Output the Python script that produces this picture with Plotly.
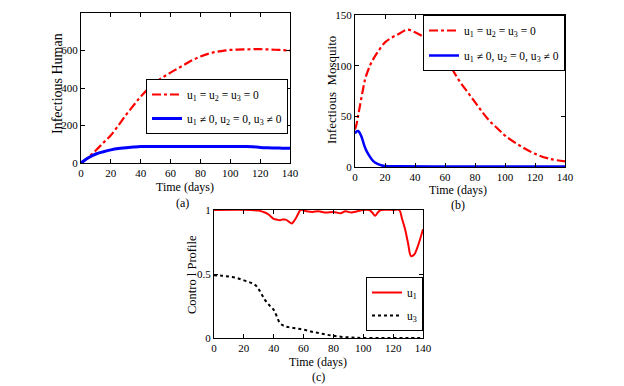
import plotly.graph_objects as go

# Panel (a): infectious human
t_a = [0, 5, 10, 15, 20, 25, 30, 35, 40, 45, 50, 55, 60, 65, 70, 75, 80, 85, 90, 95, 100, 105, 110, 115, 120, 125, 130, 135, 140]
ih_noctrl = [0, 30, 68, 108, 148, 200, 255, 305, 354, 395, 430, 458, 482, 505, 528, 550, 568, 582, 592, 598, 603, 605, 606, 607, 607, 606, 604, 602, 600]
ih_ctrl = [0, 28, 48, 60, 70, 77, 81, 85, 88, 88, 88, 88, 88, 88, 88, 88, 88, 88, 88, 88, 88, 88, 88, 87, 83, 81, 80, 79, 78]

# Panel (b): infectious mosquito
t_b = [0, 1, 2, 3, 5, 7, 10, 12, 15, 20, 25, 30, 35, 40, 45, 50, 55, 60, 65, 70, 75, 80, 85, 90, 95, 100, 110, 120, 130, 140]
im_noctrl = [37, 42, 50, 58, 74, 88, 100, 106, 113, 123, 128, 132, 135.5, 133, 129, 124, 116, 108, 96, 84, 74, 64, 54, 45, 38, 31, 21, 13, 8, 5.5]
t_b2 = [0, 1, 2, 3, 4, 5, 6, 7, 8, 10, 12, 15, 18, 20, 30, 60, 100, 140]
im_ctrl = [33, 35, 35.5, 34, 31, 27, 22, 18, 15, 10, 6, 3, 1.5, 1, 0.7, 0.5, 0.5, 0.5]

# Panel (c): control profiles
t_u1 = [0, 25, 30, 33, 36, 38, 40, 42, 44, 46, 48, 50, 52, 54, 56, 58, 62, 66, 70, 75, 80, 85, 88, 92, 96, 100, 104, 106, 108, 110, 112, 120, 124, 126, 128, 130, 132, 134, 136, 138, 140]
u1 = [1, 1, 0.995, 0.985, 0.97, 0.95, 0.93, 0.925, 0.92, 0.925, 0.925, 0.91, 0.895, 0.92, 0.96, 1.0, 0.99, 0.985, 0.99, 0.98, 0.985, 0.975, 0.99, 0.98, 0.99, 1.0, 1.0, 0.98, 0.955, 0.985, 1.0, 1.0, 1.0, 0.93, 0.85, 0.74, 0.64, 0.65, 0.7, 0.77, 0.85]
t_u3 = [0, 5, 10, 15, 20, 25, 28, 30, 32, 34, 36, 38, 40, 42, 44, 46, 48, 50, 55, 60, 65, 70, 75, 80, 85, 90, 95, 100, 110, 120, 130, 140]
u3 = [0.49, 0.487, 0.48, 0.47, 0.45, 0.43, 0.41, 0.38, 0.34, 0.30, 0.27, 0.245, 0.22, 0.17, 0.12, 0.10, 0.09, 0.085, 0.075, 0.065, 0.05, 0.04, 0.027, 0.017, 0.01, 0.005, 0.002, 0, 0, 0, 0, 0]

x_ticks = [0, 20, 40, 60, 80, 100, 120, 140]
lab_none = "u<sub>1</sub> = u<sub>2</sub> = u<sub>3</sub> = 0"
lab_ctrl = "u<sub>1</sub> \u2260 0, u<sub>2</sub> = 0, u<sub>3</sub> \u2260 0"

# the page body has an 8px margin, so the figure starts at (8, 8) in the window
OFF = 8
W, H = 624 - OFF, 386 - OFF
FONT = "Liberation Serif"

def dx(px):
    return (px - OFF) / W

def dy(py):
    return 1 - (py - OFF) / H

fig = go.Figure()
RED = "#ff0000"
BLUE = "#0000ff"

fig.add_trace(go.Scatter(x=t_a, y=ih_noctrl, name=lab_none, mode="lines", legendgroup="a1", line=dict(color=RED, width=2.2, dash="dashdot", shape="spline"), xaxis="x", yaxis="y", legend="legend"))
fig.add_trace(go.Scatter(x=t_a, y=ih_ctrl, name=lab_ctrl, mode="lines", legendgroup="a2", line=dict(color=BLUE, width=3, shape="spline"), xaxis="x", yaxis="y", legend="legend"))
fig.add_trace(go.Scatter(x=t_b, y=im_noctrl, name=lab_none, mode="lines", legendgroup="b1", line=dict(color=RED, width=2.2, dash="dashdot", shape="spline"), xaxis="x2", yaxis="y2", legend="legend2"))
fig.add_trace(go.Scatter(x=t_b2, y=im_ctrl, name=lab_ctrl, mode="lines", legendgroup="b2", line=dict(color=BLUE, width=2.5, shape="spline"), xaxis="x2", yaxis="y2", legend="legend2"))
fig.add_trace(go.Scatter(x=t_u1, y=u1, name="u<sub>1</sub>", mode="lines", legendgroup="c1", line=dict(color=RED, width=2, shape="spline"), xaxis="x3", yaxis="y3", legend="legend3"))
fig.add_trace(go.Scatter(x=t_u3, y=u3, name="u<sub>3</sub>", mode="lines", legendgroup="c2", line=dict(color="black", width=2, dash="dot", shape="spline"), xaxis="x3", yaxis="y3", legend="legend3"))

ax_common = dict(showline=True, linecolor="black", linewidth=1, mirror="ticks", ticks="inside", ticklen=4,
                 tickcolor="black", showgrid=False, zeroline=False, automargin=False,
                 tickfont=dict(family=FONT, size=11, color="black"))

leg_common = dict(xanchor="right", yanchor="top", bgcolor="white", bordercolor="black", borderwidth=1,
                  font=dict(family=FONT, size=11.5, color="black"), itemwidth=30)

fig.update_layout(
    width=W, height=H, margin=dict(l=0, r=0, t=0, b=0, autoexpand=False),
    paper_bgcolor="white", plot_bgcolor="white",
    font=dict(family=FONT, size=12, color="black"),
    xaxis=dict(domain=[dx(81), dx(290)], range=[0, 140], tickvals=x_ticks, anchor="y", **ax_common),
    yaxis=dict(domain=[dy(163), dy(13)], range=[0, 800], tickvals=[0, 200, 400, 600, 800], anchor="x", **ax_common),
    xaxis2=dict(domain=[dx(355), dx(565)], range=[0, 140], tickvals=x_ticks, anchor="y2", **ax_common),
    yaxis2=dict(domain=[dy(167), dy(15)], range=[0, 150], tickvals=[0, 50, 100, 150], anchor="x2", **ax_common),
    xaxis3=dict(domain=[dx(214), dx(423)], range=[0, 140], tickvals=x_ticks, anchor="y3", **ax_common),
    yaxis3=dict(domain=[dy(338), dy(210)], range=[0, 1], tickvals=[0, 0.5, 1], ticktext=["0", "0.5", "1"], anchor="x3", **ax_common),
    legend=dict(x=dx(288), y=dy(79), tracegroupgap=5, **leg_common),
    legend2=dict(x=dx(565), y=dy(15), tracegroupgap=6, **leg_common),
    legend3=dict(x=dx(423), y=dy(277), tracegroupgap=4, **leg_common),
    showlegend=True,
)

annots = [
    ("Time (days)", 185, 187, 0, 12), ("(a)", 182, 203, 0, 12),
    ("Time (days)", 458, 190, 0, 12), ("(b)", 458, 205, 0, 12),
    ("Time (days)", 318, 362, 0, 12), ("(c)", 318, 377, 0, 12),
    ("Infectious Human", 57, 84, -90, 14),
    ("Infectious  Mosquito", 331, 90, -90, 13),
    ("Contro l Profile", 192, 275, -90, 12.5),
]
for text, px, py, ang, fs in annots:
    fig.add_annotation(text=text, x=dx(px), y=dy(py), xref="paper", yref="paper", showarrow=False,
                       textangle=ang, xanchor="center", yanchor="middle",
                       font=dict(family=FONT, size=fs, color="black"))

fig.write_html("out.html")
